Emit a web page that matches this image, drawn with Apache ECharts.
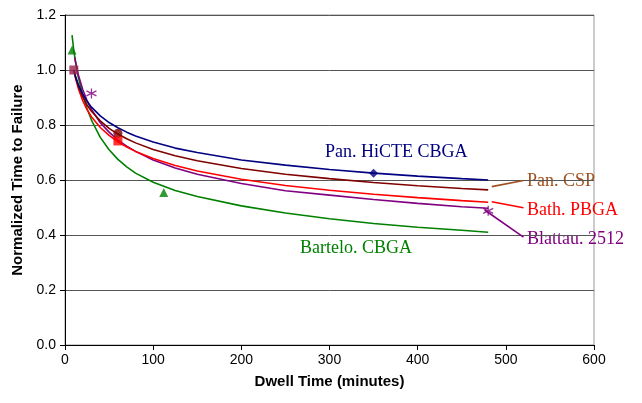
<!DOCTYPE html>
<html><head><meta charset="utf-8">
<script src="https://cdn.jsdelivr.net/npm/echarts@6/dist/echarts.min.js"></script>
<style>html,body{margin:0;padding:0;background:#fff}#c{width:642px;height:403px}</style>
</head><body><div id="c"></div>
<script>
// Curve readings (Dwell time in minutes, normalized time to failure)
const xCommon = [10, 12, 15, 20, 25, 30, 40, 50, 60, 70, 80, 100, 125, 150, 200, 250, 300, 350, 400, 450, 480];
const yHiCTE = [1.0, 0.976, 0.948, 0.913, 0.886, 0.865, 0.833, 0.809, 0.790, 0.774, 0.760, 0.738, 0.716, 0.700, 0.673, 0.654, 0.638, 0.625, 0.614, 0.605, 0.600];
const yCSP = [1.0, 0.973, 0.942, 0.903, 0.873, 0.850, 0.815, 0.788, 0.767, 0.750, 0.735, 0.711, 0.688, 0.670, 0.642, 0.621, 0.605, 0.591, 0.579, 0.569, 0.564];
const yPBGA = [1.0, 0.970, 0.934, 0.889, 0.856, 0.830, 0.791, 0.762, 0.739, 0.720, 0.704, 0.678, 0.653, 0.633, 0.603, 0.580, 0.563, 0.548, 0.536, 0.525, 0.519];
const xBlattau = [11, 12, 15, 20, 25, 30, 40, 50, 60, 70, 80, 100, 125, 150, 200, 250, 300, 350, 400, 450, 480];
const yBlattau = [1.046, 1.028, 0.984, 0.930, 0.889, 0.857, 0.808, 0.774, 0.745, 0.723, 0.704, 0.673, 0.644, 0.621, 0.587, 0.561, 0.545, 0.529, 0.515, 0.503, 0.497];
const xBartelo = [8, 10, 12, 15, 20, 25, 30, 40, 50, 60, 70, 80, 100, 125, 150, 200, 250, 300, 350, 400, 450, 480];
const yBartelo = [1.127, 1.07, 1.03, 0.975, 0.91, 0.86, 0.818, 0.755, 0.71, 0.675, 0.648, 0.625, 0.592, 0.562, 0.54, 0.506, 0.48, 0.459, 0.442, 0.428, 0.417, 0.41];

// Measured data points (markers)
const ptsHiCTE = [[350, 0.625]];
const ptsCSP = [[60, 0.77]];
const ptsPBGA = [[60, 0.742]];
const ptsShared = [[10, 1.0]];
const ptsBlattau = [[30, 0.915], [480, 0.488]];
const ptsBartelo = [[8, 1.073], [112, 0.555]];

// Label leader lines
const leadCSP = [[484, 0.576], [520, 0.598]];
const leadPBGA = [[484, 0.521], [520, 0.499]];
const leadBlattau = [[476, 0.491], [520, 0.392]];

const xTicks = [0, 600, 100];
const yTicks = [0, 1.2, 0.2];

const zip = (xs, ys) => xs.map((x, i) => [x, ys[i]]);

const C = {navy:'#000080', brown:'#800000', red:'#FF0000', purple:'#800080', green:'#008000', csp:'#A0501E'};

function curve(name, xs, ys, color) {
  return {name, type:'line', data: zip(xs, ys), smooth: false, symbol:'none',
    lineStyle:{color, width:1.6}, z:3, animation:false};
}
function pts(data, symbol, size, color, z) {
  return {type:'scatter', data, symbol, symbolSize:size, itemStyle:{color}, z: z||5, animation:false};
}
function lead(data, color) {
  return {type:'line', data, symbol:'none', lineStyle:{color, width:1.6}, z:4, animation:false};
}
const starPath = 'path://M0,-10L0,10M-8.66,-5L8.66,5M-8.66,5L8.66,-5';

const chart = echarts.init(document.getElementById('c'), null, {renderer:'canvas'});
chart.setOption({
  backgroundColor:'#fff',
  animation:false,
  grid:{left:65, right:48, top:15, bottom:58, show:true, borderColor:'#999', borderWidth:1,
    containLabel:false, outerBoundsMode:'none'},
  xAxis:{type:'value', min:xTicks[0], max:xTicks[1], interval:xTicks[2],
    name:'Dwell Time (minutes)', nameLocation:'middle', nameGap:29,
    nameTextStyle:{fontFamily:'Liberation Sans', fontWeight:'bold', fontSize:15, color:'#000'},
    axisLine:{lineStyle:{color:'#000', width:1}},
    axisTick:{show:true, length:5, lineStyle:{color:'#000'}},
    axisLabel:{fontFamily:'Liberation Sans', fontSize:14, color:'#000', margin:8},
    splitLine:{show:false}},
  yAxis:{type:'value', min:yTicks[0], max:yTicks[1], interval:yTicks[2],
    name:'Normalized Time to Failure', nameLocation:'middle', nameGap:40,
    nameTextStyle:{fontFamily:'Liberation Sans', fontWeight:'bold', fontSize:15, color:'#000'},
    axisLine:{show:true, lineStyle:{color:'#000', width:1}},
    axisTick:{show:true, length:5, lineStyle:{color:'#000'}},
    axisLabel:{fontFamily:'Liberation Sans', fontSize:14, color:'#000', margin:9,
      formatter:v=>v.toFixed(1)},
    splitLine:{show:true, lineStyle:{color:'#555', width:1}}},
  series:[
    curve('Bartelo. CBGA', xBartelo, yBartelo, C.green),
    curve('Blattau. 2512', xBlattau, yBlattau, C.purple),
    curve('Bath. PBGA', xCommon, yPBGA, C.red),
    curve('Pan. CSP', xCommon, yCSP, C.brown),
    curve('Pan. HiCTE CBGA', xCommon, yHiCTE, C.navy),
    lead(leadCSP, C.csp), lead(leadPBGA, C.red), lead(leadBlattau, C.purple),
    pts(ptsHiCTE, 'diamond', 9, C.navy),
    pts(ptsCSP, 'circle', 9, C.brown),
    pts(ptsPBGA, 'rect', 9, C.red),
    pts(ptsShared, 'rect', 9, '#99224D', 6),
    pts(ptsBartelo, 'triangle', 9, C.green),
    {type:'scatter', data: ptsBlattau, symbol: starPath, symbolSize:10, itemStyle:{color:'none', borderColor:C.purple, borderWidth:1.3}, z:5, animation:false}
  ],
  graphic:[
    {type:'text', left:325, top:143, style:{text:'Pan. HiCTE CBGA', font:'18px "Liberation Serif"', fill:C.navy}},
    {type:'text', left:527, top:172, style:{text:'Pan. CSP', font:'18px "Liberation Serif"', fill:C.csp}},
    {type:'text', left:527, top:201, style:{text:'Bath. PBGA', font:'18px "Liberation Serif"', fill:C.red}},
    {type:'text', left:527, top:230, style:{text:'Blattau. 2512', font:'18px "Liberation Serif"', fill:C.purple}},
    {type:'text', left:300, top:239, style:{text:'Bartelo. CBGA', font:'18px "Liberation Serif"', fill:C.green}}
  ]
});
</script></body></html>
